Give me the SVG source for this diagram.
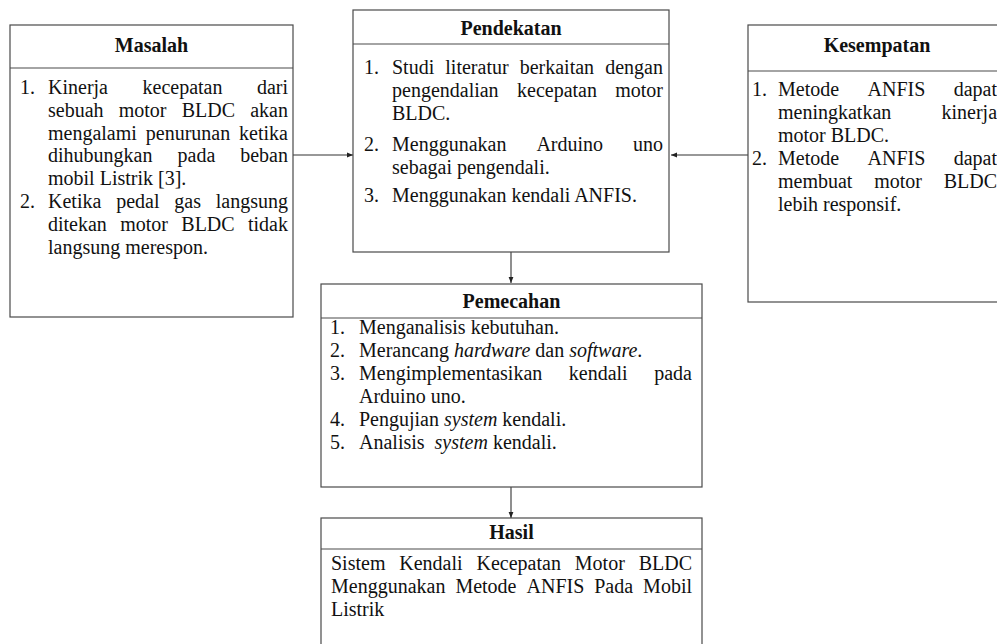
<svg xmlns="http://www.w3.org/2000/svg" width="997" height="644" viewBox="0 0 997 644">
<style>
.box{fill:#fff;stroke:#4a4a4a;stroke-width:1.2}
.div{stroke:#4a4a4a;stroke-width:1.2}
text{font-family:"Liberation Serif","Times New Roman",serif;font-size:20px;fill:#111}
.t{font-weight:bold;text-anchor:middle}
.i{font-style:italic}
.c{stroke:#333;stroke-width:1.1;fill:none}
</style>
<defs>
<marker id="ah" viewBox="0 0 10 10" refX="10" refY="5" markerWidth="6" markerHeight="6" orient="auto" markerUnits="userSpaceOnUse">
<path d="M0,1 L10,5 L0,9 Z" fill="#222"/>
</marker>
</defs>
<rect width="997" height="644" fill="#fff"/>
<g id="connectors">
<line class="c" x1="293" y1="155" x2="353" y2="155" marker-end="url(#ah)"/>
<line class="c" x1="748" y1="155" x2="671" y2="155" marker-end="url(#ah)"/>
<line class="c" x1="511" y1="252" x2="511" y2="283" marker-end="url(#ah)"/>
<line class="c" x1="511" y1="487" x2="511" y2="518" marker-end="url(#ah)"/>
</g>
<g id="masalah">
<rect class="box" x="10" y="25" width="283" height="292"/>
<line class="div" x1="10" y1="68" x2="293" y2="68"/>
<text class="t" x="151.5" y="52">Masalah</text>
<text x="20" y="94">1.</text>
<text y="94"><tspan x="48">Kinerja</tspan><tspan x="142.5">kecepatan</tspan><tspan x="256.9">dari</tspan></text>
<text y="116.8"><tspan x="48">sebuah</tspan><tspan x="118.7">motor</tspan><tspan x="181.7">BLDC</tspan><tspan x="250.2">akan</tspan></text>
<text y="139.6"><tspan x="48">mengalami</tspan><tspan x="145.8">penurunan</tspan><tspan x="239.1">ketika</tspan></text>
<text y="162.4"><tspan x="48">dihubungkan</tspan><tspan x="177.5">pada</tspan><tspan x="240.2">beban</tspan></text>
<text x="48" y="185.2">mobil Listrik [3].</text>
<text x="20" y="208">2.</text>
<text y="208"><tspan x="48">Ketika</tspan><tspan x="116.2">pedal</tspan><tspan x="174.3">gas</tspan><tspan x="215.8">langsung</tspan></text>
<text y="230.8"><tspan x="48">ditekan</tspan><tspan x="120.2">motor</tspan><tspan x="181.3">BLDC</tspan><tspan x="248">tidak</tspan></text>
<text x="48" y="253.6">langsung merespon.</text>
</g>
<g id="pendekatan">
<rect class="box" x="353" y="10" width="316" height="242"/>
<line class="div" x1="353" y1="44" x2="669" y2="44"/>
<text class="t" x="511" y="35">Pendekatan</text>
<text x="364" y="74">1.</text>
<text y="74"><tspan x="392">Studi</tspan><tspan x="445.3">literatur</tspan><tspan x="519.7">berkaitan</tspan><tspan x="605.2">dengan</tspan></text>
<text y="97"><tspan x="392">pengendalian</tspan><tspan x="517">kecepatan</tspan><tspan x="615.2">motor</tspan></text>
<text x="392" y="120">BLDC.</text>
<text x="364" y="151">2.</text>
<text y="151"><tspan x="392">Menggunakan</tspan><tspan x="536.4">Arduino</tspan><tspan x="633">uno</tspan></text>
<text x="392" y="174">sebagai pengendali.</text>
<text x="364" y="202">3.</text>
<text x="392" y="202">Menggunakan kendali ANFIS.</text>
</g>
<g id="kesempatan">
<rect class="box" x="748" y="25" width="260" height="277"/>
<line class="div" x1="748" y1="71" x2="1008" y2="71"/>
<text class="t" x="877" y="52">Kesempatan</text>
<text x="752" y="96">1.</text>
<text y="96"><tspan x="778">Metode</tspan><tspan x="867.5">ANFIS</tspan><tspan x="953.7">dapat</tspan></text>
<text y="119"><tspan x="778">meningkatkan</tspan><tspan x="941.5">kinerja</tspan></text>
<text x="778" y="142">motor BLDC.</text>
<text x="752" y="165">2.</text>
<text y="165"><tspan x="778">Metode</tspan><tspan x="867.5">ANFIS</tspan><tspan x="953.7">dapat</tspan></text>
<text y="188"><tspan x="778">membuat</tspan><tspan x="874.2">motor</tspan><tspan x="943.7">BLDC</tspan></text>
<text x="778" y="211">lebih responsif.</text>
</g>
<g id="pemecahan">
<rect class="box" x="321" y="284" width="381" height="203"/>
<line class="div" x1="321" y1="318" x2="702" y2="318"/>
<text class="t" x="511.5" y="308">Pemecahan</text>
<text x="330" y="334">1.</text>
<text x="359" y="334">Menganalisis kebutuhan.</text>
<text x="330" y="357">2.</text>
<text x="359" y="357">Merancang <tspan class="i">hardware</tspan> dan <tspan class="i">software</tspan>.</text>
<text x="330" y="380">3.</text>
<text y="380"><tspan x="359">Mengimplementasikan</tspan><tspan x="568.8">kendali</tspan><tspan x="654.2">pada</tspan></text>
<text x="359" y="403">Arduino uno.</text>
<text x="330" y="426">4.</text>
<text x="359" y="426">Pengujian <tspan class="i">system</tspan> kendali.</text>
<text x="330" y="449">5.</text>
<text x="359" y="449" xml:space="preserve">Analisis  <tspan class="i">system</tspan> kendali.</text>
</g>
<g id="hasil">
<rect class="box" x="321" y="518" width="381" height="132"/>
<line class="div" x1="321" y1="549" x2="702" y2="549"/>
<text class="t" x="511.5" y="539">Hasil</text>
<text y="570"><tspan x="331">Sistem</tspan><tspan x="399.3">Kendali</tspan><tspan x="476.5">Kecepatan</tspan><tspan x="574.8">Motor</tspan><tspan x="638.7">BLDC</tspan></text>
<text y="593"><tspan x="331">Menggunakan</tspan><tspan x="455.4">Metode</tspan><tspan x="526.5">ANFIS</tspan><tspan x="594.2">Pada</tspan><tspan x="643.1">Mobil</tspan></text>
<text x="331" y="616">Listrik</text>
</g>
</svg>
